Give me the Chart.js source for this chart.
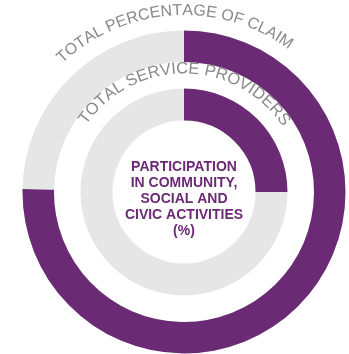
<!DOCTYPE html>
<html>
<head>
<meta charset="utf-8">
<script src="https://cdn.jsdelivr.net/npm/chart.js@4/dist/chart.umd.min.js"></script>
<style>
  html, body { margin: 0; padding: 0; background: #ffffff; }
  #chart { display: block; }
</style>
</head>
<body>
<canvas id="chart" width="349" height="354"></canvas>
<script>
// Share of participation in each ring (first value = participation, second = remainder)
const sliceNames = ['Participation', 'Other'];
const claimShare = [75.3, 24.7];
const providerShare = [25, 75];

// Ring captions, drawn along the arcs
const claimCaption = 'TOTAL PERCENTAGE OF CLAIM';
const providerCaption = 'TOTAL SERVICE PROVIDERS';

// Title in the hole of the doughnut
const centerLines = ['PARTICIPATION', 'IN COMMUNITY,', 'SOCIAL AND', 'CIVIC ACTIVITIES', '(%)'];

const PURPLE = '#6a2a74';
const LIGHT = '#e6e6e6';
const CAPTION = '#8a8a8a';

// Draws a string along a circle, centred on the given angle (radians, 0 = 12 o'clock, clockwise)
function drawArcText(ctx, text, cx, cy, radius, centerAngle, size) {
  ctx.save();
  ctx.font = size + 'px "Liberation Sans", Arial, sans-serif';
  ctx.fillStyle = CAPTION;
  ctx.textAlign = 'center';
  ctx.textBaseline = 'alphabetic';
  const total = ctx.measureText(text).width;
  let angle = centerAngle - total / 2 / radius;
  for (const ch of text) {
    const w = ctx.measureText(ch).width;
    const a = angle + w / 2 / radius;
    ctx.save();
    ctx.translate(cx + radius * Math.sin(a), cy - radius * Math.cos(a));
    ctx.rotate(a);
    ctx.fillText(ch, 0, 0);
    ctx.restore();
    angle += w / radius;
  }
  ctx.restore();
}

const captionPlugin = {
  id: 'captions',
  afterDraw(chart) {
    const ctx = chart.ctx;
    const outer = chart.getDatasetMeta(0).data[0];
    const inner = chart.getDatasetMeta(2).data[0];
    const cx = outer.x, cy = outer.y;
    drawArcText(ctx, claimCaption, cx, cy, outer.outerRadius + 15.5, -4 * Math.PI / 180, 16);
    drawArcText(ctx, providerCaption, cx, cy, inner.outerRadius + 15, 0, 16.5);

    ctx.save();
    ctx.font = 'bold 14px "Liberation Sans", Arial, sans-serif';
    ctx.fillStyle = PURPLE;
    ctx.textAlign = 'center';
    ctx.textBaseline = 'middle';
    const lh = 16;
    const top = cy + 7 - (centerLines.length - 1) * lh / 2;
    centerLines.forEach((line, i) => ctx.fillText(line, cx, top + i * lh));
    ctx.restore();
  }
};

new Chart(document.getElementById('chart'), {
  type: 'doughnut',
  data: {
    labels: sliceNames,
    datasets: [
      { label: claimCaption, data: claimShare, backgroundColor: [PURPLE, LIGHT], weight: 31.5 },
      { label: 'gap', data: [1], backgroundColor: ['rgba(0,0,0,0)'], weight: 26.5 },
      { label: providerCaption, data: providerShare, backgroundColor: [PURPLE, LIGHT], weight: 32 }
    ]
  },
  options: {
    responsive: false,
    animation: false,
    cutout: 71.5,
    layout: { padding: { left: 22.5, right: 3.5, top: 30.5, bottom: 0.5 } },
    elements: { arc: { borderWidth: 0, hoverOffset: 0, offset: 0 } },
    plugins: { legend: { display: false }, tooltip: { enabled: false } },
    events: []
  },
  plugins: [captionPlugin]
});
</script>
</body>
</html>
